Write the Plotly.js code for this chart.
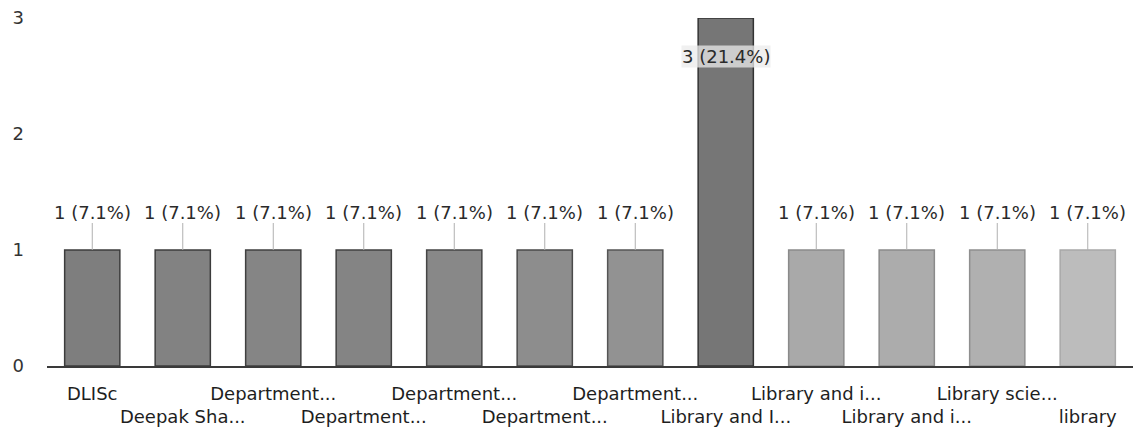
<!DOCTYPE html>
<html>
<head>
<meta charset="utf-8">
<script src="https://cdn.plot.ly/plotly-3.0.1.min.js"></script>
<style>
  html, body { margin: 0; padding: 0; background: #ffffff; }
  #chart { width: 1135px; height: 445px; }
</style>
</head>
<body>
<div id="chart"></div>
<script>
// ---- data ----
const categories = ["DLISc", "Deepak Sha...", "Department...", "Department...", "Department...", "Department...",
                    "Department...", "Library and I...", "Library and i...", "Library and i...", "Library scie...", "library"];
const counts = [1, 1, 1, 1, 1, 1, 1, 3, 1, 1, 1, 1];
const yTicks = [0, 1, 2, 3];

// ---- derived ----
const total = counts.reduce((a, b) => a + b, 0);
const positions = categories.map((_, i) => i);
const labels = counts.map(v => v + " (" + (v / total * 100).toFixed(1) + "%)");
const tickText = categories.map((c, i) => (i % 2 === 1 ? "\u00a0<br>" + c : c));
const maxCount = Math.max(...counts);

// ---- style ----
const barColors = ["#7e7e7e", "#828282", "#858585", "#848484", "#888888", "#8d8d8d",
                   "#929292", "#767676", "#a9a9a9", "#acacac", "#b0b0b0", "#bcbcbc"];
const barLines = ["#3c3c3c", "#3c3c3c", "#404040", "#404040", "#454545", "#4a4a4a",
                  "#555555", "#333333", "#8a8a8a", "#8a8a8a", "#8f8f8f", "#a8a8a8"];
const FONT = "DejaVu Sans, Liberation Sans, Arial, sans-serif";

const trace = {
  type: "bar",
  x: positions,
  y: counts,
  marker: { color: barColors, line: { color: barLines, width: 1.5 } },
  hoverinfo: "skip"
};

const annotations = counts.map((v, i) => ({
  x: positions[i],
  y: v,
  xref: "x",
  yref: "y",
  text: labels[i],
  showarrow: true,
  arrowhead: 0,
  arrowwidth: 1,
  arrowcolor: v === maxCount ? "rgba(255,255,255,0)" : "#b0b0b0",
  ax: 0,
  ay: v === maxCount ? 38 : -38,
  bgcolor: v === maxCount ? "rgba(235,235,235,0.75)" : "rgba(0,0,0,0)",
  borderpad: 0,
  font: { family: FONT, size: 18, color: "#2a2a2a" }
}));

const layout = {
  width: 1135,
  height: 445,
  margin: { l: 47, r: 2, t: 18, b: 79 },
  paper_bgcolor: "#ffffff",
  plot_bgcolor: "#ffffff",
  showlegend: false,
  bargap: 0.39,
  xaxis: {
    range: [-0.5, categories.length - 0.5],
    tickmode: "array",
    tickvals: positions,
    ticktext: tickText,
    showgrid: false,
    zeroline: false,
    showline: true,
    linecolor: "#3a3a3a",
    linewidth: 2,
    ticks: "",
    ticklabelstandoff: 10,
    tickangle: 0,
    tickfont: { family: FONT, size: 18, color: "#1e1e1e" },
    fixedrange: true
  },
  yaxis: {
    range: [0, 3],
    tickmode: "array",
    tickvals: yTicks,
    ticktext: yTicks.map(String),
    showgrid: false,
    zeroline: false,
    showline: false,
    ticks: "",
    ticklabelstandoff: 22,
    tickfont: { family: FONT, size: 18, color: "#333333" },
    fixedrange: true
  },
  annotations: annotations
};

Plotly.newPlot("chart", [trace], layout, { displayModeBar: false, staticPlot: true });
</script>
</body>
</html>
